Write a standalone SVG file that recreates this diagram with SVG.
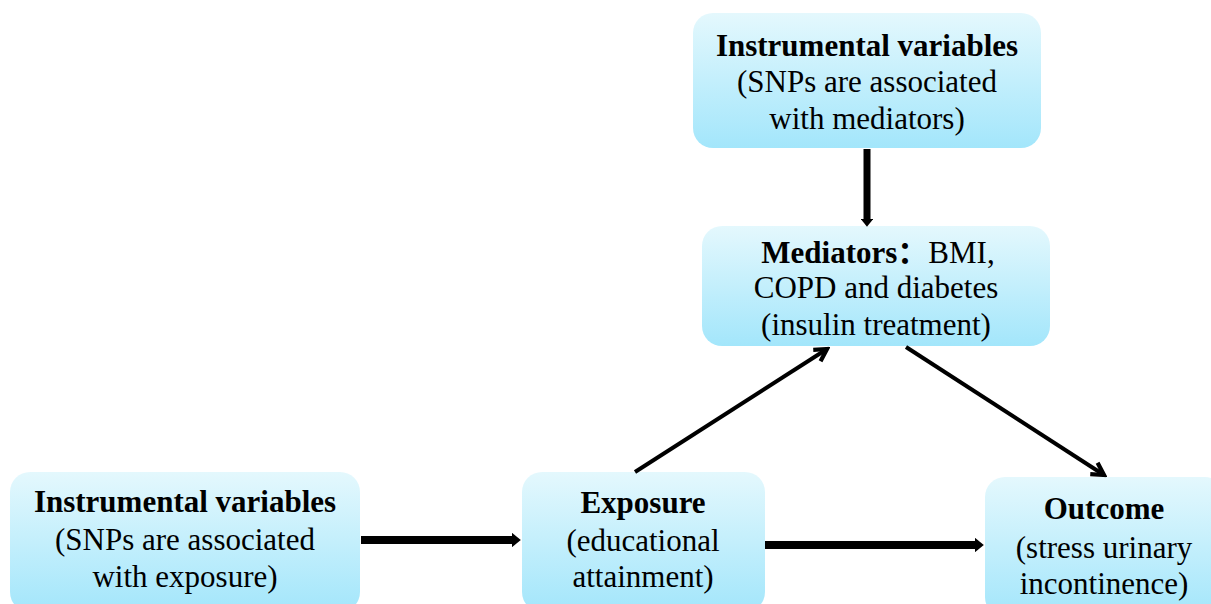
<svg xmlns="http://www.w3.org/2000/svg" width="1211" height="604" viewBox="0 0 1211 604">
<defs>
<linearGradient id="g" x1="0" y1="0" x2="0" y2="1">
<stop offset="0" stop-color="#e4f8fd"/>
<stop offset="1" stop-color="#a3e6fb"/>
</linearGradient>
<marker id="solid" viewBox="0 0 10 10" refX="0" refY="5" markerWidth="1.1" markerHeight="1.8" preserveAspectRatio="none" orient="auto" markerUnits="strokeWidth">
<path d="M0,0 L10,5 L0,10 z" fill="#000"/>
</marker>
<marker id="open" viewBox="0 0 12 12" refX="10" refY="6" markerWidth="4.5" markerHeight="4.5" orient="auto" markerUnits="strokeWidth">
<path d="M2,1.5 L10,6 L2,10.5" fill="none" stroke="#000" stroke-width="2.8" stroke-linejoin="miter"/>
</marker>
</defs>
<style>
.box{fill:url(#g);}
.t{font-size:31px;fill:#000;text-anchor:middle;}
.b{font-weight:bold;}
.c{stroke:#000;fill:none;}
</style>
<g font-family="'Liberation Serif', 'Noto Sans CJK SC', serif">
<g id="iv-mediators">
<rect class="box" x="693" y="13" width="348" height="135" rx="20"/>
<text class="t b" x="867" y="56">Instrumental variables</text>
<text class="t" x="867" y="92">(SNPs are associated</text>
<text class="t" x="867" y="129">with mediators)</text>
</g>
<g id="mediators">
<rect class="box" x="702" y="226" width="348" height="120" rx="20"/>
<text class="t" x="878" y="263"><tspan class="b">Mediators：</tspan>BMI,</text>
<text class="t" x="876" y="298">COPD and diabetes</text>
<text class="t" x="876" y="335">(insulin treatment)</text>
</g>
<g id="iv-exposure">
<rect class="box" x="10" y="472" width="350" height="140" rx="20"/>
<text class="t b" x="185" y="512">Instrumental variables</text>
<text class="t" x="185" y="550">(SNPs are associated</text>
<text class="t" x="185" y="587">with exposure)</text>
</g>
<g id="exposure">
<rect class="box" x="522" y="472" width="243" height="140" rx="20"/>
<text class="t b" x="643" y="513">Exposure</text>
<text class="t" x="643" y="551">(educational</text>
<text class="t" x="643" y="587">attainment)</text>
</g>
<g id="outcome">
<rect class="box" x="985" y="477" width="240" height="140" rx="20"/>
<text class="t b" x="1104" y="519">Outcome</text>
<text class="t" x="1104" y="558">(stress urinary</text>
<text class="t" x="1104" y="594">incontinence)</text>
</g>
</g>
<g id="connectors">
<line class="c" x1="867" y1="149" x2="867" y2="219" stroke-width="7" marker-end="url(#solid)"/>
<line class="c" x1="361" y1="540" x2="512" y2="540" stroke-width="8" marker-end="url(#solid)"/>
<line class="c" x1="765" y1="545" x2="975" y2="545" stroke-width="8" marker-end="url(#solid)"/>
<line class="c" x1="635" y1="472" x2="827" y2="349" stroke-width="4" marker-end="url(#open)"/>
<line class="c" x1="906" y1="347" x2="1104" y2="475" stroke-width="4" marker-end="url(#open)"/>
</g>
</svg>
